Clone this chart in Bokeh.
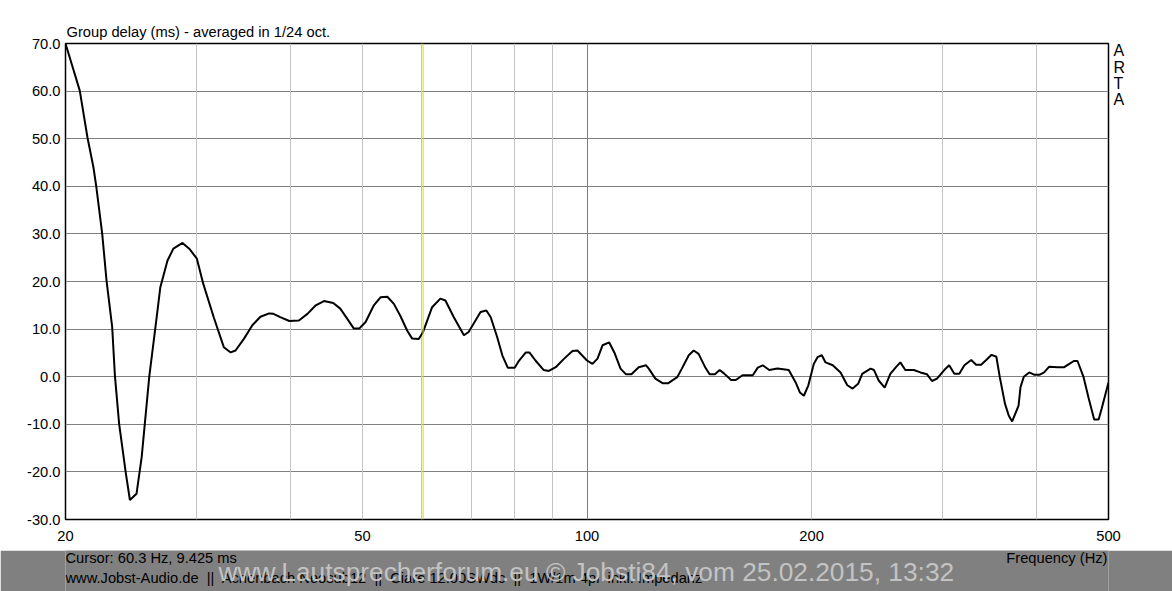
from bokeh.plotting import figure
from bokeh.models import Range1d, FixedTicker, Grid, Span, PrintfTickFormatter, LinearAxis
from bokeh.layouts import column
from bokeh.embed import file_html
from bokeh.resources import INLINE
from bokeh.core.properties import value

# ---------------- data ----------------
freq_hz = [20.0, 20.9, 21.4, 21.8, 22.0, 22.4, 22.7, 23.1, 23.3, 23.6, 24.1, 24.4, 24.9, 25.3,
           25.9, 26.5, 26.8, 27.4, 27.9, 28.7, 29.3, 30.0, 30.6, 31.6, 32.6, 33.3, 33.8, 34.7,
           35.6, 36.5, 37.5, 38.0, 38.8, 39.9, 41.1, 42.2, 43.3, 44.4, 45.7, 46.7, 47.7, 48.7,
           49.5, 50.5, 51.8, 52.9, 54.0, 55.1, 56.2, 57.4, 58.3, 59.5, 60.3, 62.0, 63.6, 64.6,
           66.3, 68.4, 69.4, 72.0, 73.3, 74.3, 75.8, 77.0, 78.3, 80.0, 81.1, 82.8, 83.7, 85.3,
           87.5, 88.9, 90.8, 93.2, 95.6, 97.1, 100.0, 101.7, 103.3, 104.9, 107.1, 108.8, 110.9,
           112.8, 114.7, 117.3, 120.0, 121.0, 123.5, 126.4, 128.4, 132.1, 134.0, 136.9, 139.0,
           141.1, 144.0, 146.0, 148.4, 150.6, 152.6, 156.0, 158.3, 161.6, 166.8, 169.4, 172.0,
           175.5, 180.0, 186.4, 190.4, 192.9, 195.3, 198.0, 201.4, 203.7, 206.4, 208.8, 213.5,
           218.7, 223.3, 227.0, 230.9, 233.8, 239.9, 242.5, 246.0, 250.6, 255.0, 259.5, 263.0,
           267.1, 274.2, 279.8, 285.6, 290.0, 294.5, 301.2, 305.8, 310.7, 315.5, 320.5, 327.3,
           332.3, 337.5, 342.8, 348.6, 353.7, 357.5, 363.3, 367.6, 371.4, 378.8, 381.1, 385.0,
           391.5, 398.0, 404.0, 409.9, 416.4, 427.4, 436.2, 443.0, 449.3, 454.4, 463.0, 470.4,
           478.4, 485.0, 489.6, 500.0]
delay_ms = [70.0, 60.1, 50.3, 44.0, 39.8, 30.0, 20.2, 10.4, 0.0, -9.9, -20.4, -25.9, -24.6, -16.9,
            0.0, 12.5, 18.8, 24.4, 26.9, 28.1, 26.9, 24.8, 19.5, 12.5, 6.2, 5.1, 5.5, 8.0,
            10.8, 12.6, 13.3, 13.2, 12.5, 11.7, 11.8, 13.2, 15.0, 15.9, 15.5, 14.3, 12.2, 10.1,
            10.1, 11.5, 15.0, 16.7, 16.8, 15.3, 12.8, 9.7, 8.0, 7.9, 9.4, 14.6, 16.4, 16.0,
            12.5, 8.7, 9.4, 13.6, 13.9, 12.5, 8.3, 4.5, 1.9, 1.9, 3.4, 5.1, 5.1, 3.4,
            1.4, 1.2, 2.0, 3.8, 5.4, 5.5, 3.4, 2.7, 3.8, 6.6, 7.2, 5.1, 1.7,
            0.5, 0.5, 2.0, 2.4, 1.7, -0.4, -1.4, -1.4, -0.1, 1.7, 4.5, 5.5,
            4.8, 2.0, 0.5, 0.5, 1.4, 0.7, -0.7, -0.7, 0.3, 0.3, 1.9, 2.4,
            1.4, 1.7, 1.4, -1.2, -3.3, -4.0, -1.8, 2.7, 4.1, 4.5, 3.0, 2.4,
            0.9, -1.8, -2.5, -1.5, 0.6, 1.7, 1.4, -0.8, -2.3, 0.6, 2.0, 3.0,
            1.4, 1.4, 0.9, 0.5, -0.9, -0.4, 1.4, 2.4, 0.6, 0.6, 2.4, 3.5,
            2.5, 2.5, 3.5, 4.6, 4.2, -0.1, -5.7, -8.2, -9.4, -6.1, -2.2, 0.0,
            0.9, 0.4, 0.4, 0.9, 2.1, 2.0, 2.0, 2.7, 3.3, 3.3, -0.1, -4.6,
            -9.0, -9.0, -6.7, -1.2]

x_major_ticks = [20, 50, 100, 200, 500]
x_light_grid = [30, 40, 50, 60, 70, 80, 90, 200, 300, 400]
x_dark_grid = [100]
y_ticks = [-30, -20, -10, 0, 10, 20, 30, 40, 50, 60, 70]
cursor_freq = 60.3
cursor_delay = 9.425

title_text = "Group delay (ms) - averaged in 1/24 oct."
side_letters = ["A", "R", "T", "A"]
side_letter_pos = [68.45, 65.05, 61.7, 58.3]   # vertical slots of the stacked "ARTA" mark
cursor_text = "Cursor: %.1f Hz, %.3f ms" % (cursor_freq, cursor_delay)
SEP = " \u00a0||\u00a0 "
footer_parts = ["www.Jobst-Audio.de", "Achenbach Neosub12", "Ciare 12.00SWdc", "1W/1m 4pi \u00a0inkl. Impedanz"]
footer_text = SEP.join(footer_parts)
watermark_text = "www.Lautsprecherforum.eu \u00a9 Jobsti84, vom 25.02.2015, 13:32"
xlabel_text = "Frequency (Hz)"

FONT = "Liberation Sans"
FS = "14.7px"

# ---------------- main chart ----------------
p = figure(width=1172, height=550, x_axis_type="log",
           x_range=Range1d(20, 500), y_range=Range1d(-30, 70),
           output_backend="svg", toolbar_location=None,
           min_border_left=65, min_border_right=64, min_border_top=43, min_border_bottom=31,
           title=title_text, background_fill_color="white", border_fill_color="white")

p.title.text_font = FONT
p.title.text_font_size = FS
p.title.text_font_style = "normal"
p.title.text_color = "black"
p.title.align = "left"
p.title.offset = 1
p.title.standoff = 8

p.outline_line_color = "black"
p.outline_line_width = 1.5

p.xaxis.ticker = FixedTicker(ticks=x_major_ticks, minor_ticks=[])
p.xaxis.formatter = PrintfTickFormatter(format="%.0f")
p.yaxis.ticker = FixedTicker(ticks=y_ticks, minor_ticks=[])
p.yaxis.formatter = PrintfTickFormatter(format="%.1f")

side_axis = LinearAxis(ticker=FixedTicker(ticks=side_letter_pos, minor_ticks=[]),
                       major_label_overrides={k: v for k, v in zip(side_letter_pos, side_letters)})
p.add_layout(side_axis, "right")

for ax in (p.xaxis[0], p.yaxis[0], side_axis):
    ax.axis_line_color = None
    ax.major_tick_line_color = None
    ax.minor_tick_line_color = None
    ax.major_tick_out = 0
    ax.major_tick_in = 0
    ax.minor_tick_out = 0
    ax.minor_tick_in = 0
    ax.major_label_text_font = FONT
    ax.major_label_text_font_size = FS
    ax.major_label_text_color = "black"
p.xaxis.major_label_standoff = 11
p.yaxis[0].major_label_standoff = 5
side_axis.major_label_standoff = 5
side_axis.major_label_text_font_size = "16px"

p.xgrid.grid_line_color = None
p.ygrid.ticker = FixedTicker(ticks=y_ticks[1:-1])
p.ygrid.grid_line_color = "#808080"
p.ygrid.grid_line_width = 1

g_light = Grid(dimension=0, ticker=FixedTicker(ticks=x_light_grid),
               grid_line_color="#c4c4c4", grid_line_width=1)
g_dark = Grid(dimension=0, ticker=FixedTicker(ticks=x_dark_grid),
              grid_line_color="#808080", grid_line_width=1)
p.add_layout(g_light, "center")
p.add_layout(g_dark, "center")

cursor = Span(location=cursor_freq, dimension="height", line_color="#dcdc00", line_width=1,
              level="glyph")
p.add_layout(cursor)

p.line(freq_hz, delay_ms, line_color="black", line_width=2)

# ---------------- footer band (frame aligned with main chart frame) ----------------
f = figure(width=1172, height=41, x_range=Range1d(65, 1108), y_range=Range1d(591, 550),
           output_backend="svg", toolbar_location=None, min_border=0,
           x_axis_location=None, y_axis_location=None,
           background_fill_color="#808080", border_fill_color="#808080",
           outline_line_color=None)
f.xgrid.visible = False
f.ygrid.visible = False

f.text(x=[65, 65], y=[557.5, 577.5], text=[cursor_text, footer_text],
       text_font=value(FONT), text_font_size=FS, text_color="black",
       text_align="left", text_baseline="middle")
f.text(x=[1107], y=[557.5], text=[xlabel_text],
       text_font=value(FONT), text_font_size=FS, text_color="black",
       text_align="right", text_baseline="middle")
f.text(x=[218], y=[571], text=[watermark_text],
       text_font=value(FONT), text_font_size="26.3px", text_color="#c3c3c3",
       text_align="left", text_baseline="middle")

layout = column(p, f, spacing=0)
open("out.html", "w").write(file_html(layout, INLINE))
